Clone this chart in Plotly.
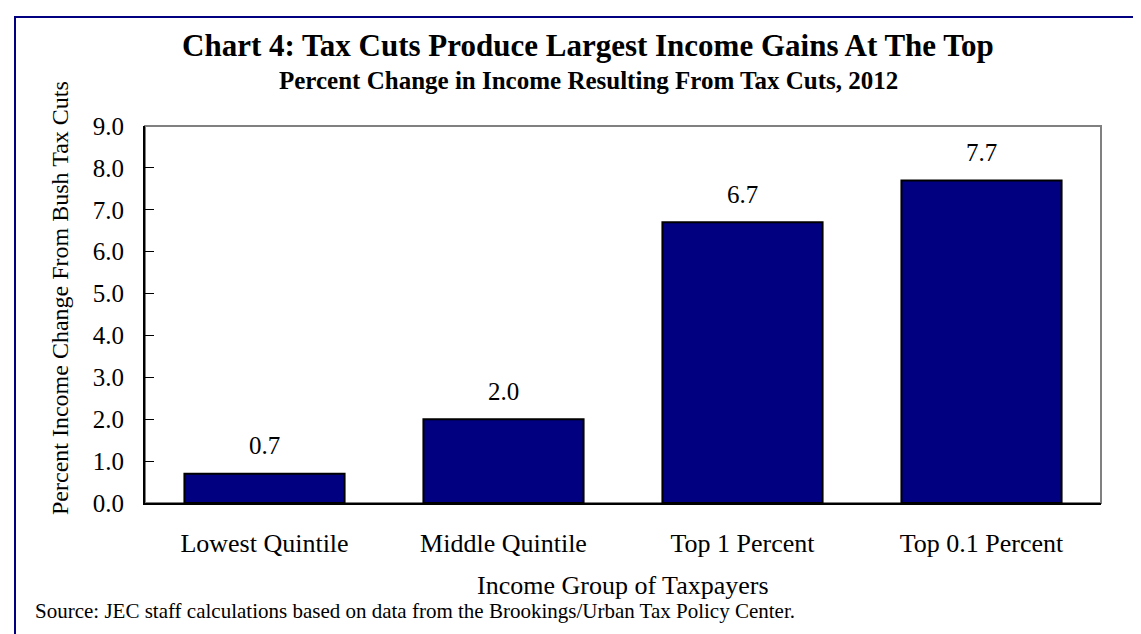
import plotly.graph_objects as go

categories = ["Lowest Quintile", "Middle Quintile", "Top 1 Percent", "Top 0.1 Percent"]
values = [0.7, 2.0, 6.7, 7.7]
value_labels = ["0.7", "2.0", "6.7", "7.7"]
y_ticks = [0, 1, 2, 3, 4, 5, 6, 7, 8, 9]

FONT = "Liberation Serif, Times New Roman, serif"

fig = go.Figure()
fig.add_trace(go.Bar(
    x=categories, y=values,
    marker=dict(color="#000080", line=dict(color="black", width=2)),
    hoverinfo="skip",
))

for c, v, t in zip(categories, values, value_labels):
    fig.add_annotation(x=c, y=v, text=t, showarrow=False, yanchor="middle",
                       yshift=28, font=dict(family=FONT, size=25, color="black"))

W, H = 1141, 634
L, R, T, B = 137, 48, 118, 139
PW, PH = W - L - R, H - T - B

def px(x):
    return (x - L) / PW

def py(y):
    return (H - B - y) / PH

# gray top/right frame of plot area
fig.add_shape(type="rect", xref="paper", yref="paper", x0=0, x1=1, y0=0, y1=1,
              line=dict(color="#808080", width=2), layer="below")
# outer navy border (right/bottom beyond view)
fig.add_shape(type="rect", xref="paper", yref="paper",
              x0=px(7), x1=px(1160), y0=py(660), y1=py(9),
              line=dict(color="#000080", width=2), layer="below")

fig.add_annotation(xref="paper", yref="paper", x=px(580), y=py(38),
                   text="<b>Chart 4: Tax Cuts Produce Largest Income Gains At The Top</b>",
                   showarrow=False, xanchor="center", yanchor="middle",
                   font=dict(family=FONT, size=31, color="black"))
fig.add_annotation(xref="paper", yref="paper", x=px(580), y=py(72),
                   text="<b>Percent Change in Income Resulting From Tax Cuts, 2012</b>",
                   showarrow=False, xanchor="center", yanchor="middle",
                   font=dict(family=FONT, size=25, color="black"))
fig.add_annotation(xref="paper", yref="paper", x=px(615), y=py(577),
                   text="Income Group of Taxpayers",
                   showarrow=False, xanchor="center", yanchor="middle",
                   font=dict(family=FONT, size=26, color="black"))
fig.add_annotation(xref="paper", yref="paper", x=px(25), y=py(603),
                   text="Source: JEC staff calculations based on data from the Brookings/Urban Tax Policy Center.",
                   showarrow=False, xanchor="left", yanchor="middle",
                   font=dict(family=FONT, size=21, color="black"))
fig.add_annotation(xref="paper", yref="paper", x=px(52), y=py(290),
                   text="Percent Income Change From Bush Tax Cuts", textangle=-90,
                   showarrow=False, xanchor="center", yanchor="middle",
                   font=dict(family=FONT, size=24, color="black"))

fig.update_layout(
    width=W, height=H,
    margin=dict(l=L, r=R, t=T, b=B),
    paper_bgcolor="white", plot_bgcolor="white",
    showlegend=False, bargap=0.33,
    font=dict(family=FONT, size=25, color="black"),
    xaxis=dict(showline=True, linecolor="black", linewidth=2, ticks="",
               showgrid=False, ticklabelstandoff=16,
               tickfont=dict(family=FONT, size=26, color="black")),
    yaxis=dict(range=[0, 9], tickvals=y_ticks, tickformat=".1f",
               showline=True, linecolor="black", linewidth=2,
               ticks="inside", ticklen=9, tickcolor="black", tickwidth=1,
               showgrid=False, zeroline=False, ticklabelstandoff=14,
               tickfont=dict(family=FONT, size=25, color="black")),
)

fig.write_html("out.html")
